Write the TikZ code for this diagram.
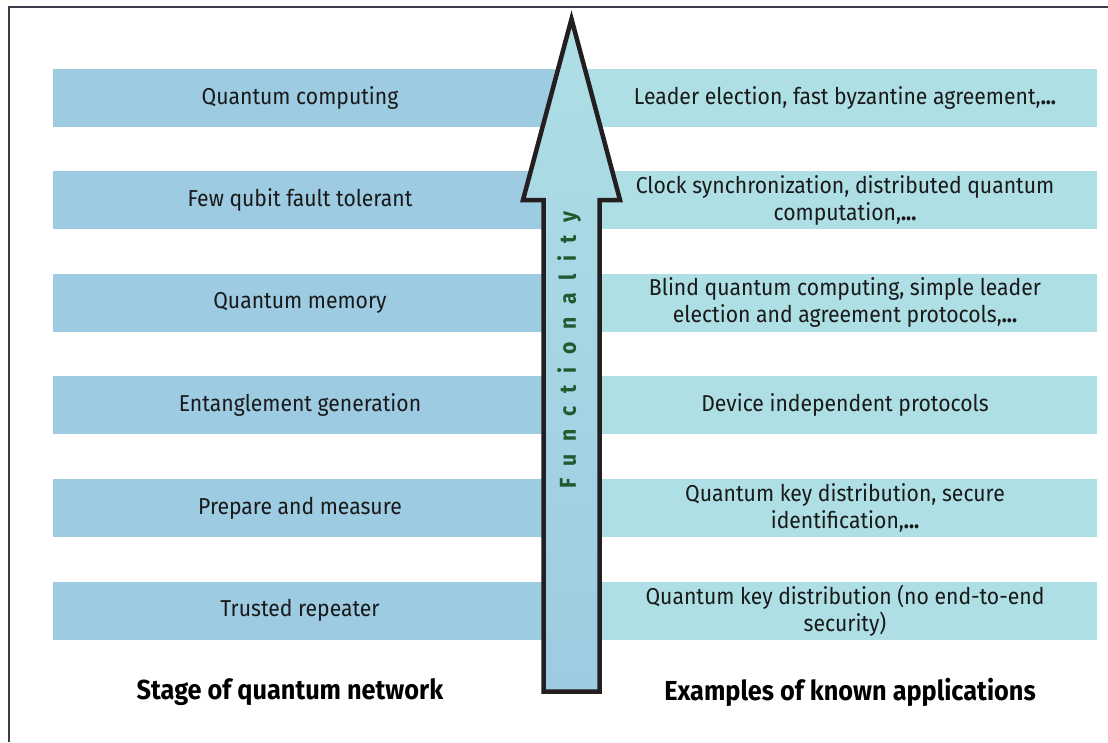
\documentclass[tikz,border=0pt]{standalone}
\usepackage{fontspec}
\setmainfont{Fira Sans}[FakeStretch=0.92]
\usepackage{tikz}
\usetikzlibrary{calc}
\definecolor{stageblue}{HTML}{9DCBE2}
\definecolor{appcyan}{HTML}{AEDFE5}
\definecolor{funcgreen}{HTML}{1F5A30}
\definecolor{framegray}{HTML}{3D3A4B}
\definecolor{arrowline}{HTML}{231F20}
\tikzset{
  stagebar/.style={fill=stageblue,minimum width=502pt,minimum height=58pt,inner sep=0pt,
    text=black!90,font=\fontsize{23}{27}\selectfont},
  appbar/.style={fill=appcyan,minimum width=542pt,minimum height=58pt,inner sep=0pt},
  applabel/.style={align=center,inner sep=0pt,text=black!90,font=\fontsize{23}{27}\selectfont},
  headlabel/.style={font=\fontsize{27.5}{31}\selectfont\bfseries}
}

\begin{document}
\begin{tikzpicture}[x=1pt,y=-1pt]
  \useasboundingbox (0,0) rectangle (1108,742);
  \draw[framegray,line width=2pt] (9,742) -- (9,7) -- (1108,7);

  \node[stagebar] (s1) at (304,97.5) {\hspace*{-8pt}Quantum computing};
  \node[stagebar] (s2) at (304,200.1) {\hspace*{-8pt}Few qubit fault tolerant};
  \node[stagebar] (s3) at (304,302.7) {\hspace*{-8pt}Quantum memory};
  \node[stagebar] (s4) at (304,405.3) {\hspace*{-8pt}Entanglement generation};
  \node[stagebar] (s5) at (304,507.9) {\hspace*{-8pt}Prepare and measure};
  \node[stagebar] (s6) at (304,610.5) {\hspace*{-8pt}Trusted repeater};

  \node[appbar] (a1) at (826,97.5) {};
  \node[appbar] (a2) at (826,200.1) {};
  \node[appbar] (a3) at (826,302.7) {};
  \node[appbar] (a4) at (826,405.3) {};
  \node[appbar] (a5) at (826,507.9) {};
  \node[appbar] (a6) at (826,610.5) {};

  \node[applabel] (l1) at ($(a1.center)+(19,0)$) {Leader election, fast byzantine agreement,\textbf{...}};
  \node[applabel] (l2) at ($(a2.center)+(19,0)$) {Clock synchronization, distributed quantum\\computation,\textbf{...}};
  \node[applabel] (l3) at ($(a3.center)+(19,0)$) {Blind quantum computing, simple leader\\election and agreement protocols,\textbf{...}};
  \node[applabel] (l4) at ($(a4.center)+(19,0)$) {Device independent protocols};
  \node[applabel] (l5) at ($(a5.center)+(19,0)$) {Quantum key distribution, secure\\identification,\textbf{...}};
  \node[applabel] (l6) at ($(a6.center)+(19,0)$) {Quantum key distribution (no end-to-end\\security)};

  % the arrow
  \draw[arrowline,line width=4.5pt,top color=appcyan,bottom color=stageblue]
    (571.5,19) -- (620,200) -- (599.5,200) -- (599.5,691.5)
    -- (543.5,691.5) -- (543.5,200) -- (523,200) -- cycle;
  \node[rotate=90,text=funcgreen,font=\fontsize{23}{26}\selectfont\bfseries\addfontfeature{LetterSpace=55}]
    (func) at (569,350) {Functionality};

  \node[headlabel] (stagehd) at (290,692) {Stage of quantum network};
  \node[headlabel] (apphd) at (850,692) {Examples of known applications};
\end{tikzpicture}
\end{document}
